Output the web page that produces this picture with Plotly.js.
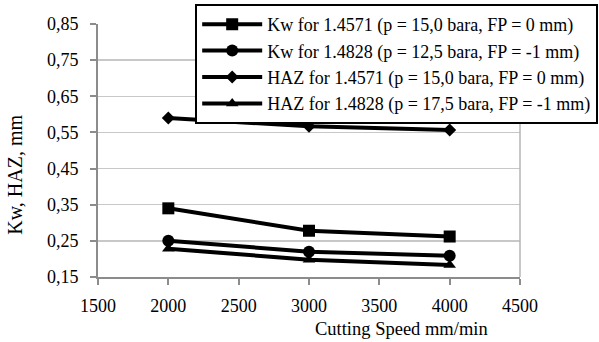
<!DOCTYPE html>
<html>
<head>
<meta charset="utf-8">
<script src="https://cdn.plot.ly/plotly-3.0.1.min.js"></script>
<style>html,body{margin:0;padding:0;background:#fff;}#chart{width:599px;height:342px;}</style>
</head>
<body>
<div id="chart"></div>
<script>
const speeds = [2000, 3000, 4000];
const kw14571 = [0.34, 0.278, 0.262];
const kw14828 = [0.25, 0.22, 0.209];
const haz14571 = [0.59, 0.567, 0.557];
const haz14828 = [0.228, 0.198, 0.183];
const seriesNames = [
  "Kw for 1.4571 (p = 15,0 bara, FP = 0 mm)",
  "Kw for 1.4828 (p = 12,5 bara, FP = -1 mm)",
  "HAZ for 1.4571 (p = 15,0 bara, FP = 0 mm)",
  "HAZ for 1.4828 (p = 17,5 bara, FP = -1 mm)"
];
const seriesValues = [kw14571, kw14828, haz14571, haz14828];
const symbols = ["square", "circle", "diamond", "triangle-up"];
const sizes = [12, 12, 10, 11];

const font = "Liberation Serif";
const traces = seriesValues.map((v, i) => ({
  x: speeds, y: v, name: seriesNames[i], type: "scatter", mode: "lines+markers",
  line: {color: "#000", width: 4},
  marker: {symbol: symbols[i], size: sizes[i], color: "#000"}
}));

const layout = {
  width: 599, height: 342,
  margin: {l: 98, r: 79, t: 24, b: 65, autoexpand: false},
  separators: ", ",
  paper_bgcolor: "#fff", plot_bgcolor: "#fff",
  font: {family: font, size: 18, color: "#000"},
  showlegend: true,
  legend: {
    x: (597 - 98) / 421, xanchor: "right", y: (277 - 4) / 253, yanchor: "top",
    bgcolor: "#fff", bordercolor: "#000", borderwidth: 2,
    font: {family: font, size: 18, color: "#000"},
    tracegroupgap: 0, itemwidth: 60
  },
  xaxis: {
    range: [1500, 4500], tick0: 1500, dtick: 500,
    showgrid: false, zeroline: false,
    showline: true, linecolor: "#8c8c8c", linewidth: 2, mirror: false,
    ticks: "outside", ticklen: 6, tickcolor: "#8c8c8c", tickwidth: 2,
    ticklabelstandoff: 5,
    tickfont: {family: font, size: 18, color: "#000"}
  },
  yaxis: {
    range: [0.15, 0.85], tick0: 0.15, dtick: 0.1, tickformat: ".2f",
    showgrid: true, gridcolor: "#c8c8c8", gridwidth: 1.5, zeroline: false,
    showline: true, linecolor: "#8c8c8c", linewidth: 2, mirror: false,
    ticks: "outside", ticklen: 6, tickcolor: "#8c8c8c", tickwidth: 2,
    ticklabelstandoff: 8,
    tickfont: {family: font, size: 18, color: "#000"}
  },
  shapes: [
    {type: "line", xref: "paper", yref: "paper", x0: 1, x1: 1, y0: 0, y1: 1,
     line: {color: "#b4b4b4", width: 1.5}}
  ],
  annotations: [
    {text: "Cutting Speed mm/min", xref: "paper", yref: "paper",
     x: (401 - 98) / 421, y: -(329 - 277) / 253, xanchor: "center", yanchor: "middle",
     showarrow: false, font: {family: font, size: 18.5, color: "#000"}},
    {text: "Kw, HAZ, mm", xref: "paper", yref: "paper", textangle: -90,
     x: -(98 - 15) / 421, y: (277 - 175) / 253, xanchor: "center", yanchor: "middle",
     showarrow: false, font: {family: font, size: 20, color: "#000"}}
  ]
};

Plotly.newPlot("chart", traces, layout, {staticPlot: true, displayModeBar: false});
</script>
</body>
</html>
